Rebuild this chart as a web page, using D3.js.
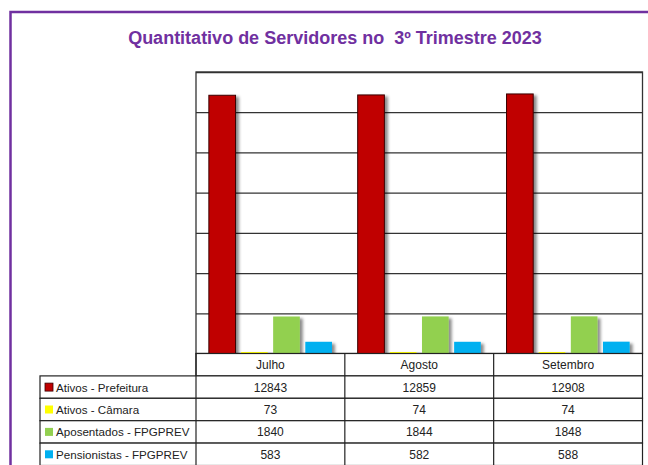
<!DOCTYPE html>
<html>
<head>
  <title>Quantitativo de Servidores</title>
  <script src="https://d3js.org/d3.v7.min.js"></script>
  <style>
  body {
    margin: 0;
    background: #fff;
  }
  text {
    font-family: "Liberation Sans", Arial, sans-serif;
  }
  </style>
</head>
<body>
  <script>
    var months = ["Julho", "Agosto", "Setembro"];
    var seriesNames = ["Ativos - Prefeitura", "Ativos - Câmara", "Aposentados - FPGPREV", "Pensionistas - FPGPREV"];
    var seriesColors = ["#C00000", "#FFFF00", "#92D050", "#00B0F0"];
    var prefeitura = [12843, 12859, 12908];
    var camara = [73, 74, 74];
    var aposentados = [1840, 1844, 1848];
    var pensionistas = [583, 582, 588];
    var yTicks = [0, 2000, 4000, 6000, 8000, 10000, 12000, 14000];

    var values = [prefeitura, camara, aposentados, pensionistas];

    var width = 648;
    var height = 465;

    var svg = d3.select("body")
      .append("svg")
      .attr("width", width)
      .attr("height", height);

    var defs = svg.append("defs");
    var shadow = defs.append("filter")
      .attr("id", "shadow")
      .attr("x", "-20%").attr("y", "-20%")
      .attr("width", "160%").attr("height", "140%");
    shadow.append("feDropShadow")
      .attr("dx", 3)
      .attr("dy", 2)
      .attr("stdDeviation", 1.5)
      .attr("flood-color", "#000")
      .attr("flood-opacity", 0.45);

    // purple outer frame (runs off the picture right and bottom)
    svg.append("rect")
      .attr("x", 10.5)
      .attr("y", 12)
      .attr("width", 700)
      .attr("height", 500)
      .attr("fill", "#fff")
      .attr("stroke", "#7030A0")
      .attr("stroke-width", 2.5);

    svg.append("text")
      .attr("x", 335)
      .attr("y", 44)
      .attr("text-anchor", "middle")
      .attr("font-size", 18)
      .attr("font-weight", "bold")
      .attr("fill", "#7030A0")
      .style("white-space", "pre")
      .text("Quantitativo de Servidores no  3º Trimestre 2023");

    var plot = { left: 196, right: 642.5, top: 72, bottom: 353.5 };

    var x = d3.scaleBand()
      .domain(months)
      .range([plot.left, plot.right]);

    var xInner = d3.scaleBand()
      .domain(seriesNames)
      .range([0, x.bandwidth()])
      .paddingInner(0.17)
      .paddingOuter(0.4);

    var y = d3.scaleLinear()
      .domain([0, 14000])
      .range([plot.bottom, plot.top]);

    // gridlines
    svg.append("g")
      .attr("transform", "translate(" + plot.left + ",0)")
      .call(d3.axisLeft(y).tickValues(yTicks).tickSize(-(plot.right - plot.left)).tickFormat(""))
      .call(function(g) {
        g.select(".domain").remove();
        g.selectAll(".tick line").attr("stroke", "#333").attr("stroke-width", 1.3);
      });

    svg.append("rect")
      .attr("x", plot.left)
      .attr("y", plot.top)
      .attr("width", plot.right - plot.left)
      .attr("height", plot.bottom - plot.top)
      .attr("fill", "none")
      .attr("stroke", "#333")
      .attr("stroke-width", 1.3);

    // bars
    var bars = [];
    seriesNames.forEach(function(s, i) {
      months.forEach(function(m, j) {
        bars.push({ series: s, index: i, month: m, value: values[i][j] });
      });
    });

    svg.append("g")
      .selectAll("rect")
      .data(bars)
      .enter()
      .append("rect")
      .attr("x", function(d) { return x(d.month) + xInner(d.series); })
      .attr("y", function(d) { return y(d.value); })
      .attr("width", xInner.bandwidth())
      .attr("height", function(d) { return y(0) - y(d.value); })
      .attr("fill", function(d) { return seriesColors[d.index]; })
      .attr("stroke", function(d) { return d.index === 0 ? "#3a0000" : "none"; })
      .attr("stroke-width", 1)
      .attr("filter", "url(#shadow)");

    // data table
    var rowH = 22.4;
    var tableTop = plot.bottom;
    var legendLeft = 40;
    var lineColor = "#222";

    var table = svg.append("g");

    // header row
    table.append("rect")
      .attr("x", plot.left)
      .attr("y", tableTop)
      .attr("width", plot.right - plot.left)
      .attr("height", rowH)
      .attr("fill", "#fff")
      .attr("stroke", lineColor)
      .attr("stroke-width", 1.2);

    table.selectAll(".hdr")
      .data(months)
      .enter()
      .append("text")
      .attr("x", function(d) { return x(d) + x.bandwidth() / 2; })
      .attr("y", tableTop + rowH / 2 + 4.5)
      .attr("text-anchor", "middle")
      .attr("font-size", 12)
      .attr("fill", "#222")
      .text(function(d) { return d; });

    seriesNames.forEach(function(s, i) {
      var top = tableTop + rowH * (i + 1);
      table.append("rect")
        .attr("x", legendLeft)
        .attr("y", top)
        .attr("width", plot.right - legendLeft)
        .attr("height", rowH)
        .attr("fill", "#fff")
        .attr("stroke", lineColor)
        .attr("stroke-width", 1.2);

      table.append("rect")
        .attr("x", legendLeft + 5)
        .attr("y", top + rowH / 2 - 4)
        .attr("width", 8)
        .attr("height", 8)
        .attr("fill", seriesColors[i])
        .attr("stroke", i === 0 ? "#3a0000" : "none")
        .attr("stroke-width", 0.8);

      table.append("text")
        .attr("x", legendLeft + 16)
        .attr("y", top + rowH / 2 + 4.5)
        .attr("font-size", 11.6)
        .attr("fill", "#222")
        .text(s);

      table.selectAll(".v" + i)
        .data(values[i])
        .enter()
        .append("text")
        .attr("x", function(d, j) { return x(months[j]) + x.bandwidth() / 2; })
        .attr("y", top + rowH / 2 + 4.5)
        .attr("text-anchor", "middle")
        .attr("font-size", 12)
        .attr("fill", "#222")
        .text(function(d) { return d; });
    });

    // vertical lines of the table
    table.selectAll(".vline")
      .data(x.domain())
      .enter()
      .append("line")
      .attr("x1", function(d) { return x(d); })
      .attr("x2", function(d) { return x(d); })
      .attr("y1", tableTop)
      .attr("y2", tableTop + rowH * 5)
      .attr("stroke", lineColor)
      .attr("stroke-width", 1.2);
  </script>
</body>
</html>
